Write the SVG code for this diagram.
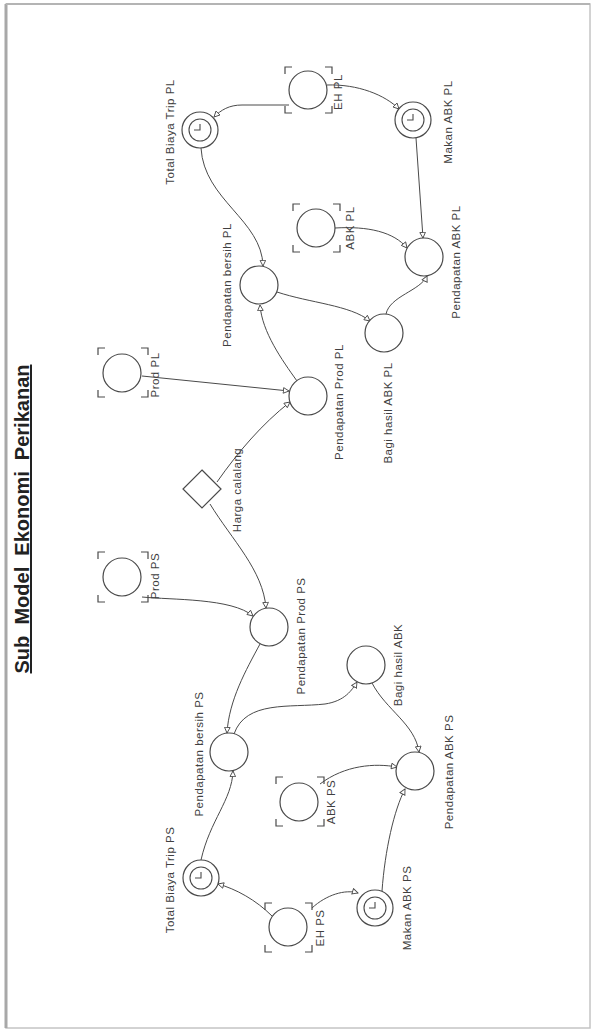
<svg xmlns="http://www.w3.org/2000/svg" width="594" height="1032" viewBox="0 0 594 1032">
  <style>
    .frame { fill: #ffffff; stroke: #c4c4c4; stroke-width: 1.5; }
    .node { fill: #ffffff; stroke: #4a4a4a; stroke-width: 1.2; }
    .ring { fill: none; stroke: #4a4a4a; stroke-width: 1.1; }
    .bracket { fill: none; stroke: #4a4a4a; stroke-width: 1.2; }
    .hand { fill: none; stroke: #4a4a4a; stroke-width: 1.1; }
    .link { fill: none; stroke: #4a4a4a; stroke-width: 1; }
    .lbl { font-family: "Liberation Sans", Arial, sans-serif; font-size: 11.5px; fill: #404040; text-anchor: middle; letter-spacing: 0.5px; }
    .title { font-family: "Liberation Sans", Arial, sans-serif; font-size: 20px; font-weight: bold; fill: #222222; text-anchor: middle; text-decoration: underline; white-space: pre; }
  </style>
  <defs>
    <marker id="arrow" viewBox="0 0 10 10" refX="9" refY="5" markerWidth="7" markerHeight="7" markerUnits="userSpaceOnUse" orient="auto">
      <path d="M1,1 L9,5 L1,9 Z" fill="#ffffff" stroke="#4a4a4a" stroke-width="1.3"/>
    </marker>
  </defs>

  <!-- page frame -->
  <rect class="frame" x="6" y="4" width="584" height="1024"/>
  <line x1="6" y1="4" x2="6" y2="1028" stroke="#a8a8a8" stroke-width="3"/>
  <line x1="6" y1="4" x2="590" y2="4" stroke="#b4b4b4" stroke-width="2"/>

  <!-- title (page is laid out sideways) -->
  <text class="title" xml:space="preserve" transform="translate(29,519) rotate(-90)">Sub  Model  Ekonomi  Perikanan</text>

  <!-- connectors -->
  <g id="connectors">
    <path class="link" marker-end="url(#arrow)" d="M289,105 L242,105 C229,105 221,110 214,117"/>
    <path class="link" marker-end="url(#arrow)" d="M327,85 C358,84 385,95 399,109"/>
    <path class="link" marker-end="url(#arrow)" d="M201,148 C204,200 262,220 263,266"/>
    <path class="link" marker-end="url(#arrow)" d="M416,138 L423,238"/>
    <path class="link" marker-end="url(#arrow)" d="M335,228 C368,226 394,232 407,248"/>
    <path class="link" marker-end="url(#arrow)" d="M277,292 C310,303 350,305 370,321"/>
    <path class="link" marker-end="url(#arrow)" d="M386,314 C390,296 420,291 427,276"/>
    <path class="link" marker-end="url(#arrow)" d="M142,376 L289,391"/>
    <path class="link" marker-end="url(#arrow)" d="M217,482 C238,452 262,424 290,402"/>
    <path class="link" marker-end="url(#arrow)" d="M297,381 C282,360 262,332 260,305"/>
    <path class="link" marker-end="url(#arrow)" d="M210,504 C232,540 263,570 266,608"/>
    <path class="link" marker-end="url(#arrow)" d="M142,597 C172,600 232,598 253,616"/>
    <path class="link" marker-end="url(#arrow)" d="M260,644 C246,670 229,700 227,733"/>
    <path class="link" marker-end="url(#arrow)" d="M234,734 C246,700 290,708 325,704 C345,701 352,690 357,682"/>
    <path class="link" marker-end="url(#arrow)" d="M372,683 C386,710 415,724 419,752"/>
    <path class="link" marker-end="url(#arrow)" d="M382,891 C385,850 394,810 405,789"/>
    <path class="link" marker-end="url(#arrow)" d="M320,784 C345,765 375,763 397,767"/>
    <path class="link" marker-end="url(#arrow)" d="M201,860 C210,820 232,800 233,771"/>
    <path class="link" marker-end="url(#arrow)" d="M272,916 C256,900 236,889 218,884"/>
    <path class="link" marker-end="url(#arrow)" d="M312,908 C326,895 345,889 358,893"/>
  </g>

  <!-- PL side -->
  <g id="eh-pl">
    <circle class="node" cx="308" cy="90" r="19"/>
    <path class="bracket" d="M285,74 V67 H292 M325,67 H332 V74 M332,106 V113 H325 M292,113 H285 V106"/>
    <text class="lbl" transform="translate(342,92) rotate(-90)">EH PL</text>
  </g>
  <g id="total-biaya-trip-pl">
    <circle class="node" cx="200" cy="130" r="18"/>
    <circle class="ring" cx="200" cy="130" r="11"/>
    <path class="hand" d="M194,130 H200 V124"/>
    <text class="lbl" transform="translate(174,132) rotate(-90)">Total Biaya Trip PL</text>
  </g>
  <g id="makan-abk-pl">
    <circle class="node" cx="413" cy="120" r="18"/>
    <circle class="ring" cx="413" cy="120" r="11"/>
    <path class="hand" d="M407,120 H413 V114"/>
    <text class="lbl" transform="translate(452,122) rotate(-90)">Makan ABK PL</text>
  </g>
  <g id="abk-pl">
    <circle class="node" cx="316" cy="228" r="19"/>
    <path class="bracket" d="M293,211 V204 H300 M333,204 H340 V211 M340,245 V252 H333 M300,252 H293 V245"/>
    <text class="lbl" transform="translate(354,228) rotate(-90)">ABK PL</text>
  </g>
  <g id="pendapatan-abk-pl">
    <circle class="node" cx="424" cy="257" r="19"/>
    <text class="lbl" transform="translate(460,262) rotate(-90)">Pendapatan ABK PL</text>
  </g>
  <g id="pendapatan-bersih-pl">
    <circle class="node" cx="259" cy="285" r="19"/>
    <text class="lbl" transform="translate(231,285) rotate(-90)">Pendapatan bersih PL</text>
  </g>
  <g id="bagi-hasil-abk-pl">
    <circle class="node" cx="384" cy="333" r="19"/>
    <text class="lbl" transform="translate(392,413) rotate(-90)">Bagi hasil ABK PL</text>
  </g>
  <g id="pendapatan-prod-pl">
    <circle class="node" cx="308" cy="396" r="19"/>
    <text class="lbl" transform="translate(343,402) rotate(-90)">Pendapatan Prod PL</text>
  </g>
  <g id="prod-pl">
    <circle class="node" cx="122" cy="373" r="19"/>
    <path class="bracket" d="M98,355 V348 H105 M141,348 H148 V355 M148,390 V397 H141 M105,397 H98 V390"/>
    <text class="lbl" transform="translate(159,375) rotate(-90)">Prod PL</text>
  </g>

  <!-- shared price -->
  <g id="harga-calalang">
    <path class="node" d="M202,470 L221,489 L202,508 L183,489 Z"/>
    <text class="lbl" transform="translate(241,490) rotate(-90)">Harga calalang</text>
  </g>

  <!-- PS side -->
  <g id="prod-ps">
    <circle class="node" cx="122" cy="577" r="19"/>
    <path class="bracket" d="M98,559 V552 H105 M141,552 H148 V559 M148,595 V602 H141 M105,602 H98 V595"/>
    <text class="lbl" transform="translate(159,576) rotate(-90)">Prod PS</text>
  </g>
  <g id="pendapatan-prod-ps">
    <circle class="node" cx="269" cy="627" r="19"/>
    <text class="lbl" transform="translate(305,636) rotate(-90)">Pendapatan Prod PS</text>
  </g>
  <g id="bagi-hasil-abk">
    <circle class="node" cx="366" cy="665" r="19"/>
    <text class="lbl" transform="translate(402,665) rotate(-90)">Bagi hasil ABK</text>
  </g>
  <g id="pendapatan-bersih-ps">
    <circle class="node" cx="229" cy="752" r="19"/>
    <text class="lbl" transform="translate(203,754) rotate(-90)">Pendapatan bersih PS</text>
  </g>
  <g id="pendapatan-abk-ps">
    <circle class="node" cx="415" cy="771" r="19"/>
    <text class="lbl" transform="translate(453,772) rotate(-90)">Pendapatan ABK PS</text>
  </g>
  <g id="abk-ps">
    <circle class="node" cx="299" cy="802" r="19"/>
    <path class="bracket" d="M276,784 V777 H283 M317,777 H324 V784 M324,819 V826 H317 M283,826 H276 V819"/>
    <text class="lbl" transform="translate(335,802) rotate(-90)">ABK PS</text>
  </g>
  <g id="total-biaya-trip-ps">
    <circle class="node" cx="201" cy="878" r="18"/>
    <circle class="ring" cx="201" cy="878" r="11"/>
    <path class="hand" d="M195,878 H201 V872"/>
    <text class="lbl" transform="translate(174,880) rotate(-90)">Total Biaya Trip PS</text>
  </g>
  <g id="eh-ps">
    <circle class="node" cx="288" cy="927" r="19"/>
    <path class="bracket" d="M265,910 V903 H272 M305,903 H312 V910 M312,945 V952 H305 M272,952 H265 V945"/>
    <text class="lbl" transform="translate(324,928) rotate(-90)">EH PS</text>
  </g>
  <g id="makan-abk-ps">
    <circle class="node" cx="375" cy="908" r="18"/>
    <circle class="ring" cx="375" cy="908" r="11"/>
    <path class="hand" d="M369,908 H375 V902"/>
    <text class="lbl" transform="translate(411,908) rotate(-90)">Makan ABK PS</text>
  </g>
</svg>
